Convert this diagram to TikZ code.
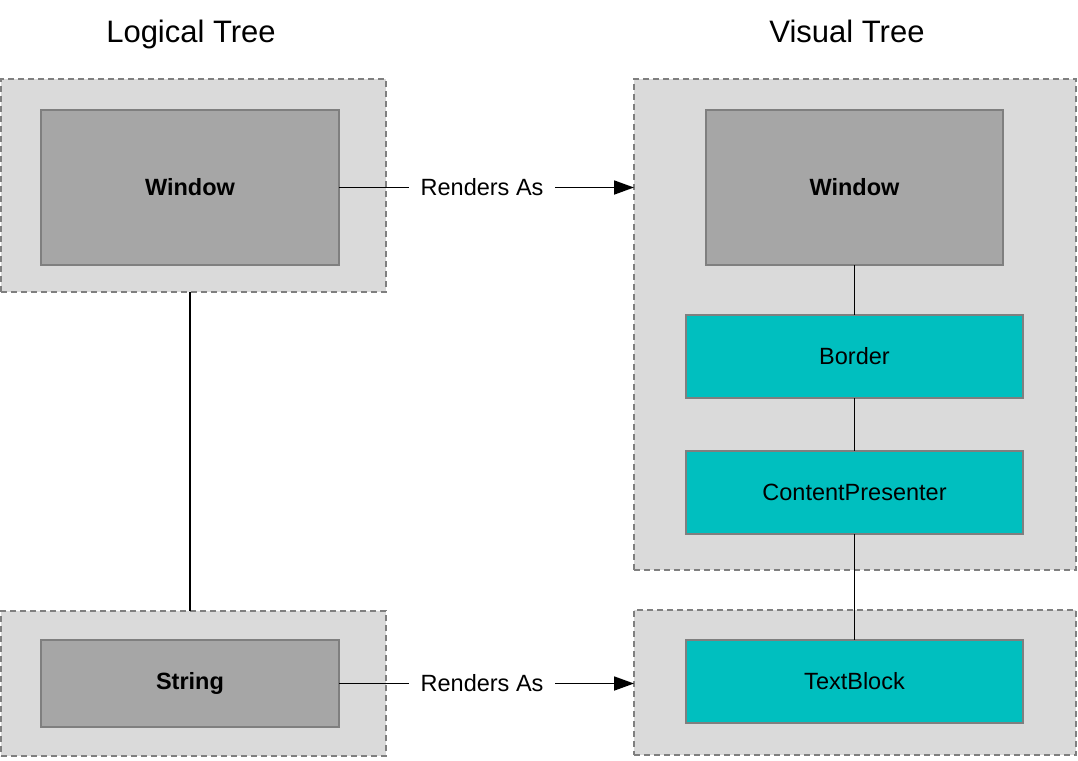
\documentclass[tikz,border=0pt]{standalone}
\usepackage{fontspec}
\setmainfont{Liberation Sans}
\usetikzlibrary{arrows.meta}
\definecolor{contfill}{HTML}{DADADA}
\definecolor{boxstroke}{HTML}{7F7F7F}
\definecolor{grayfill}{HTML}{A6A6A6}
\definecolor{tealfill}{HTML}{00BFBF}
\begin{document}
\begin{tikzpicture}[x=1pt,y=-1pt,
  every node/.style={inner sep=0pt,outer sep=0pt},
  container/.style={fill=contfill,draw=boxstroke,line width=1.8pt,dash pattern=on 6pt off 4pt},
  graybox/.style={fill=grayfill,draw=boxstroke,line width=1.8pt,font=\fontsize{23.5}{28}\selectfont\bfseries},
  tealbox/.style={fill=tealfill,draw=boxstroke,line width=1.8pt,font=\fontsize{23.5}{28}\selectfont},
  title/.style={font=\fontsize{31}{36}\selectfont,anchor=base},
  conn/.style={line width=1.8pt,black},
  lbl/.style={fill=white,inner xsep=12pt,inner ysep=4pt,font=\fontsize{23.5}{28}\selectfont}
]
\useasboundingbox (0,0) rectangle (1078,760);
% titles
\node[title] (t1) at (191,43) {Logical Tree};
\node[title] (t2) at (847,43) {Visual Tree};
% containers
\node[container,minimum width=385pt,minimum height=213pt] (lt) at (193.5,185.5) {};
\node[container,minimum width=385pt,minimum height=145pt] (lb) at (193.5,683.5) {};
\node[container,minimum width=442pt,minimum height=491pt] (rt) at (855,324.5) {};
\node[container,minimum width=442pt,minimum height=145pt] (rb) at (855,682.5) {};
% boxes
\node[graybox,minimum width=298pt,minimum height=155pt] (wl) at (190,187.5) {Window};
\node[graybox,minimum width=298pt,minimum height=87pt] (str) at (190,683.5) {String};
\node[graybox,minimum width=297pt,minimum height=155pt] (wr) at (854.5,187.5) {Window};
\node[tealbox,minimum width=337pt,minimum height=83pt] (bd) at (854.5,356.5) {Border};
\node[tealbox,minimum width=337pt,minimum height=83pt] (cp) at (854.5,492.5) {ContentPresenter};
\node[tealbox,minimum width=337pt,minimum height=83pt] (tb) at (854.5,681.5) {TextBlock};
% connectors
\draw[conn] (wl |- lt.south) -- (wl |- lb.north);
\draw[conn] (wr.south) -- (bd.north);
\draw[conn] (bd.south) -- (cp.north);
\draw[conn] (cp.south) -- (tb.north);
\draw[conn,-{Triangle[length=20pt,width=14pt]}] (wl.east) -- node[lbl,pos=0.485] (l1) {Renders As} (wl.east -| rt.west);
\draw[conn,-{Triangle[length=20pt,width=14pt]}] (str.east) -- node[lbl,pos=0.485] (l2) {Renders As} (str.east -| rb.west);
\end{tikzpicture}
\end{document}
